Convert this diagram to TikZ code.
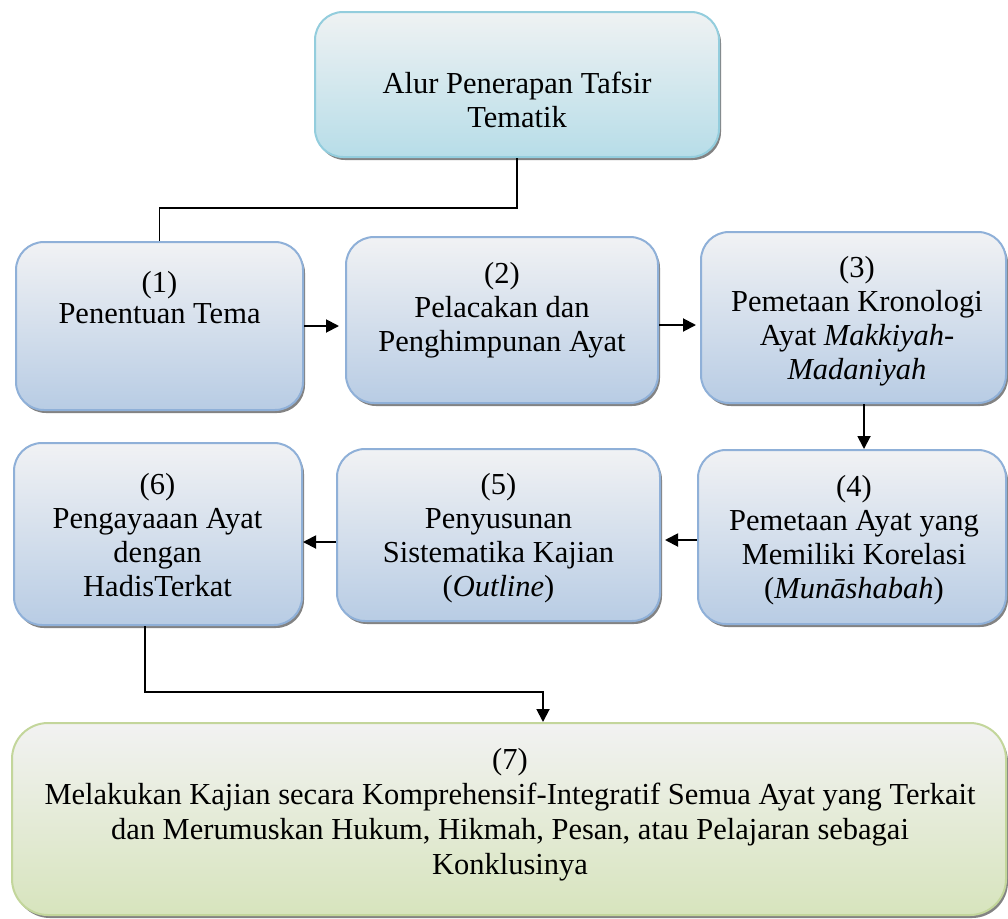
\documentclass[tikz,border=0pt]{standalone}
\usepackage{fontspec}
\setmainfont{Liberation Serif}
\usetikzlibrary{shadows,arrows.meta}
\definecolor{blueTop}{HTML}{F1F2F4}
\definecolor{blueBot}{HTML}{B8CCE4}
\definecolor{blueLine}{HTML}{8FB0D8}
\definecolor{cyanTop}{HTML}{EFF2F3}
\definecolor{cyanBot}{HTML}{B7DDE8}
\definecolor{cyanLine}{HTML}{93CDDD}
\definecolor{greenTop}{HTML}{F2F2F2}
\definecolor{greenBot}{HTML}{D7E4BD}
\definecolor{greenLine}{HTML}{C3D69B}
\tikzset{
  box/.style={rectangle, rounded corners=28pt, line width=2pt, inner sep=0pt,
    drop shadow={shadow xshift=2pt, shadow yshift=-3pt, fill=black!65, opacity=0.75}},
  bluebox/.style={box, draw=blueLine, top color=blueTop, bottom color=blueBot},
  cyanbox/.style={box, draw=cyanLine, top color=cyanTop, bottom color=cyanBot},
  greenbox/.style={box, rounded corners=36pt, draw=greenLine, top color=greenTop, bottom color=greenBot},
  txt/.style={align=center, inner sep=0pt, font=\fontsize{30.5}{34}\selectfont},
  conn/.style={line width=1.9pt, black},
  arr/.style={conn, -{Triangle[length=13pt,width=13pt]}}
}
\begin{document}
\begin{tikzpicture}[x=1pt,y=-1pt]
\useasboundingbox (0,0) rectangle (1008,918);
% boxes
\node[cyanbox, minimum width=404pt, minimum height=145pt] (top) at (517,84.5) {};
\node[bluebox, minimum width=287pt, minimum height=168pt] (b1) at (159.5,326) {};
\node[bluebox, minimum width=312pt, minimum height=166pt] (b2) at (502,320) {};
\node[bluebox, minimum width=305pt, minimum height=171pt] (b3) at (853.5,317.5) {};
\node[bluebox, minimum width=308pt, minimum height=174pt] (b4) at (852,537) {};
\node[bluebox, minimum width=323pt, minimum height=172pt] (b5) at (498.5,535) {};
\node[bluebox, minimum width=288pt, minimum height=182pt] (b6) at (158,534) {};
\node[greenbox, minimum width=994pt, minimum height=192pt] (b7) at (509,819) {};
% texts
\node[txt] (t0) at (517,100) {Alur Penerapan Tafsir\\Tematik};
\node[txt, font=\fontsize{30.5}{31}\selectfont] (t1) at (159.5,297.5) {(1)\\Penentuan Tema};
\node[txt] (t2) at (502,310.5) {(2)\\Pelacakan dan\\Penghimpunan Ayat};
\node[txt] (t3) at (857,321) {(3)\\Pemetaan Kronologi\\Ayat \textit{Makkiyah-}\\\textit{Madaniyah}};
\node[txt] (t4) at (854,540) {(4)\\Pemetaan Ayat yang\\Memiliki Korelasi\\(\textit{Munāshabah})};
\node[txt] (t5) at (498.5,538.5) {(5)\\Penyusunan\\Sistematika Kajian\\(\textit{Outline})};
\node[txt] (t6) at (157.5,535) {(6)\\Pengayaaan Ayat\\dengan\\HadisTerkat};
\node[txt, font=\fontsize{30.5}{35}\selectfont] (t7) at (510,814.5) {(7)\\Melakukan Kajian secara Komprehensif-Integratif Semua Ayat yang Terkait\\dan Merumuskan Hukum, Hikmah, Pesan, atau Pelajaran sebagai\\Konklusinya};
% helper coordinates
\coordinate (k1) at (0,208);
\coordinate (k2) at (0,325);
\coordinate (k3) at (864,0);
\coordinate (k4) at (0,540);
\coordinate (k5) at (0,542);
\coordinate (k6) at (145,0);
\coordinate (k7) at (0,692);
\coordinate (k8) at (543,0);
% connectors
\draw[conn] (top.south) -- (top.south |- k1) -| (b1.north);
\draw[arr, shorten >=6pt] (b1.east) -- (b1.east -| b2.west);
\draw[arr, shorten >=4pt] (b2.east |- k2) -- (b3.west |- k2);
\draw[arr] (b3.south -| k3) -- (b4.north -| k3);
\draw[arr, shorten >=4pt] (b4.west |- k4) -- (b5.east |- k4);
\draw[arr] (b5.west |- k5) -- (b6.east |- k5);
\draw[arr] (b6.south -| k6) -- (k6 |- k7) -- (k8 |- k7) -- (b7.north -| k8);
\end{tikzpicture}
\end{document}
